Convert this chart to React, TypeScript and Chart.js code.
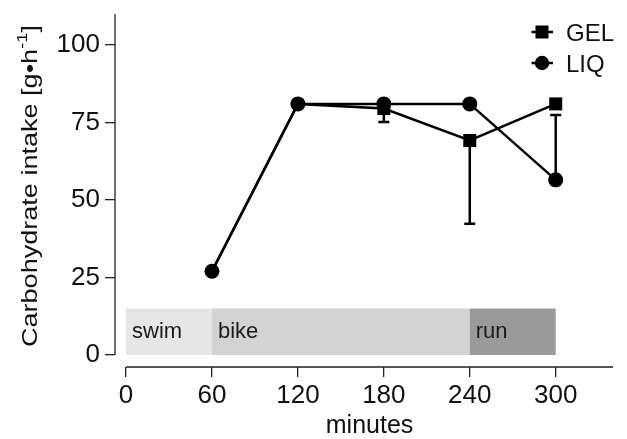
import React, { useEffect, useRef } from "react";
import { Chart, registerables } from "chart.js";

Chart.register(...registerables);

// ---- data ----
const minutes = [60, 120, 180, 240, 300];
const gelValues = [27, 81, 79.5, 69.2, 81];
const liqValues = [27, 81, 81, 81, 56.5];
const gelLower = [null, null, 75.2, 42.3, null];
const liqUpper = [null, null, null, null, 77.4];
const xTicks = [0, 60, 120, 180, 240, 300];
const yTicks = [0, 25, 50, 75, 100];
const phaseNames = ["swim", "bike", "run"];
const phaseStart = [0, 60, 240];
const phaseEnd = [60, 240, 300];
const phaseTop = 15;

const phaseColors = ["#e6e6e6", "#d3d3d3", "#9a9a9a"];
const FONT = "'Liberation Sans', Arial, Helvetica, sans-serif";
const X_MIN = -7.7;
const X_MAX = 340;
const Y_MIN = -3.87;
const Y_MAX = 110;

const zeroPad = (s: any) => {
  s.paddingTop = 0;
  s.paddingBottom = 0;
  s.paddingLeft = 0;
  s.paddingRight = 0;
};

const decor = {
  id: "decor",
  beforeDatasetsDraw(chart: any) {
    const { ctx, scales, chartArea } = chart;
    const x = scales.x;
    const y = scales.y;
    ctx.save();
    // phase bands
    const yb = y.getPixelForValue(0);
    const yt = y.getPixelForValue(phaseTop);
    phaseNames.forEach((name, i) => {
      const x0 = x.getPixelForValue(phaseStart[i]);
      const x1 = x.getPixelForValue(phaseEnd[i]);
      ctx.fillStyle = phaseColors[i];
      ctx.fillRect(x0, yt, x1 - x0, yb - yt);
      ctx.fillStyle = "#1a1a1a";
      ctx.font = `22px ${FONT}`;
      ctx.textAlign = "left";
      ctx.textBaseline = "alphabetic";
      ctx.fillText(name, x0 + 6, yb - 17.5);
    });
    // axis lines
    ctx.strokeStyle = "#222";
    ctx.lineWidth = 1.3;
    ctx.beginPath();
    ctx.moveTo(chartArea.left, y.getPixelForValue(0));
    ctx.lineTo(chartArea.left, y.getPixelForValue(Y_MAX));
    ctx.moveTo(x.getPixelForValue(0), chartArea.bottom);
    ctx.lineTo(x.getPixelForValue(X_MAX), chartArea.bottom);
    ctx.stroke();
    // error bars
    ctx.strokeStyle = "#000";
    ctx.lineWidth = 2.5;
    const drawErr = (xv: number, from: number, to: number) => {
      const px = x.getPixelForValue(xv);
      const p0 = y.getPixelForValue(from);
      const p1 = y.getPixelForValue(to);
      ctx.beginPath();
      ctx.moveTo(px, p0);
      ctx.lineTo(px, p1);
      ctx.moveTo(px - 5.5, p1);
      ctx.lineTo(px + 5.5, p1);
      ctx.stroke();
    };
    minutes.forEach((m, i) => {
      if (gelLower[i] != null) drawErr(m, gelValues[i], gelLower[i] as number);
      if (liqUpper[i] != null) drawErr(m, liqValues[i], liqUpper[i] as number);
    });
    ctx.restore();
  },
  afterDraw(chart: any) {
    const { ctx, scales } = chart;
    const x = scales.x;
    ctx.save();
    // legend
    const lx = 542;
    const rows = [
      { label: chart.data.datasets[0].label, y: 32, style: "rect" },
      { label: chart.data.datasets[1].label, y: 63, style: "circle" },
    ];
    rows.forEach((r) => {
      ctx.strokeStyle = "#000";
      ctx.lineWidth = 2.5;
      ctx.beginPath();
      ctx.moveTo(lx - 10.5, r.y);
      ctx.lineTo(lx + 11, r.y);
      ctx.stroke();
      ctx.fillStyle = "#000";
      if (r.style === "rect") {
        ctx.fillRect(lx - 6.5, r.y - 6.5, 13, 13);
      } else {
        ctx.beginPath();
        ctx.arc(lx, r.y, 7.2, 0, Math.PI * 2);
        ctx.fill();
      }
      ctx.fillStyle = "#111";
      ctx.font = `24px ${FONT}`;
      ctx.textAlign = "left";
      ctx.textBaseline = "alphabetic";
      ctx.fillText(r.label, 566, r.y + 9);
    });
    // x title
    ctx.fillStyle = "#111";
    ctx.font = `25px ${FONT}`;
    ctx.textAlign = "center";
    ctx.fillText("minutes", x.getPixelForValue(X_MAX / 2), 433);
    // y title with superscript
    const fs = 22;
    const main = "Carbohydrate intake [g\u2022h";
    const sup = "-1";
    const tail = "]";
    ctx.font = `${fs}px ${FONT}`;
    const wMain = ctx.measureText(main).width;
    const wTail = ctx.measureText(tail).width;
    ctx.font = `${fs * 0.68}px ${FONT}`;
    const wSup = ctx.measureText(sup).width;
    const total = wMain + wSup + wTail;
    const sx = 322 / total;
    ctx.translate(37, 186);
    ctx.rotate(-Math.PI / 2);
    ctx.scale(sx, 1);
    ctx.textAlign = "left";
    let cx = -total / 2;
    ctx.font = `${fs}px ${FONT}`;
    ctx.fillText(main, cx, 0);
    cx += wMain;
    ctx.font = `${fs * 0.68}px ${FONT}`;
    ctx.fillText(sup, cx, -fs * 0.45);
    cx += wSup;
    ctx.font = `${fs}px ${FONT}`;
    ctx.fillText(tail, cx, 0);
    ctx.restore();
  },
};

export default function App() {
  const ref = useRef<HTMLCanvasElement | null>(null);
  useEffect(() => {
    document.body.style.margin = "0";
    const canvas = ref.current;
    if (!canvas) return;
    const chart = new Chart(canvas, {
      type: "line",
      data: {
        datasets: [
          {
            label: "GEL",
            data: minutes.map((m, i) => ({ x: m, y: gelValues[i] })),
            borderColor: "#000",
            backgroundColor: "#000",
            borderWidth: 2.5,
            pointStyle: "rect",
            pointRadius: (c: any) =>
              gelValues[c.dataIndex] === liqValues[c.dataIndex] ? 0 : 9.2,
            pointBackgroundColor: "#000",
            pointBorderWidth: 0,
            order: 1,
          },
          {
            label: "LIQ",
            data: minutes.map((m, i) => ({ x: m, y: liqValues[i] })),
            borderColor: "#000",
            backgroundColor: "#000",
            borderWidth: 2.5,
            pointStyle: "circle",
            pointRadius: 7.5,
            pointBackgroundColor: "#000",
            pointBorderWidth: 0,
            order: 0,
          },
        ],
      },
      options: {
        responsive: false,
        animation: false,
        devicePixelRatio: 1,
        layout: { padding: { top: 14, right: 14, left: 0, bottom: 0 } },
        plugins: {
          legend: { display: false },
          tooltip: { enabled: false },
          title: { display: false },
        },
        scales: {
          x: {
            type: "linear",
            min: X_MIN,
            max: X_MAX,
            afterFit: (s: any) => {
              s.height = 72;
              zeroPad(s);
            },
            afterBuildTicks: (s: any) => {
              s.ticks = xTicks.map((v) => ({ value: v }));
            },
            grid: {
              drawOnChartArea: false,
              drawTicks: true,
              tickLength: 10,
              color: "#222",
              lineWidth: 1.3,
            },
            border: { display: false },
            ticks: {
              autoSkip: false,
              maxRotation: 0,
              padding: 3,
              color: "#111",
              font: { family: FONT, size: 26 },
            },
          },
          y: {
            type: "linear",
            min: Y_MIN,
            max: Y_MAX,
            afterFit: (s: any) => {
              s.width = 115;
              zeroPad(s);
            },
            afterBuildTicks: (s: any) => {
              s.ticks = yTicks.map((v) => ({ value: v }));
            },
            grid: {
              drawOnChartArea: false,
              drawTicks: true,
              tickLength: 10,
              color: "#222",
              lineWidth: 1.3,
            },
            border: { display: false },
            ticks: {
              autoSkip: false,
              padding: 5,
              color: "#111",
              font: { family: FONT, size: 26 },
            },
          },
        },
      },
      plugins: [decor],
    } as any);
    return () => chart.destroy();
  }, []);
  return (
    <div style={{ width: 627, height: 439 }}>
      <canvas ref={ref} width={627} height={439} style={{ display: "block" }} />
    </div>
  );
}
